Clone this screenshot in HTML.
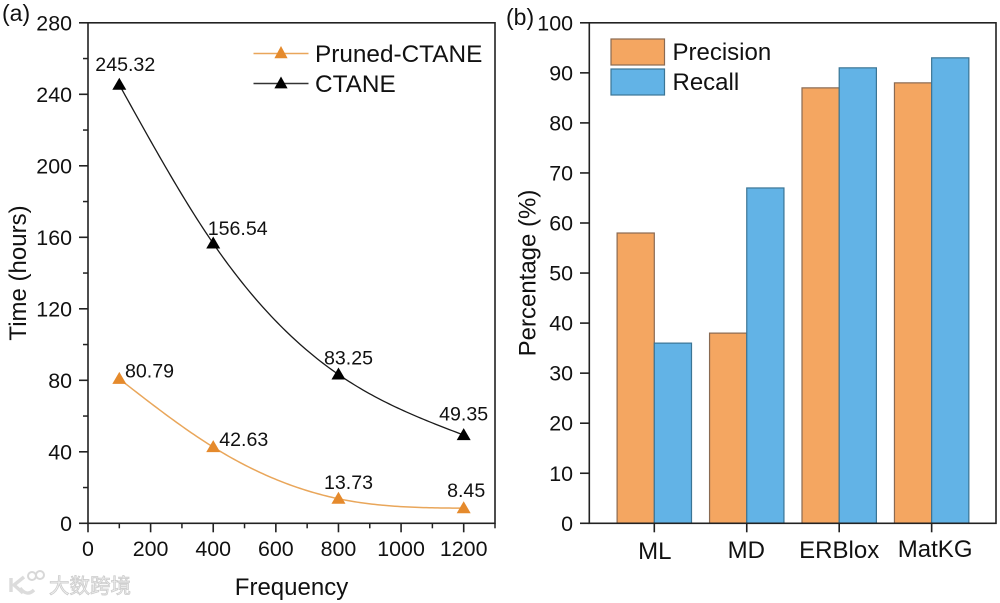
<!DOCTYPE html>
<html lang="en">
<head>
<meta charset="utf-8">
<title>CTANE runtime and model precision/recall</title>
<style>
html,body{margin:0;padding:0;background:#fff;}
svg{display:block;font-family:"Liberation Sans","Noto Sans CJK SC",sans-serif;}
text{fill:#111111;}
</style>
</head>
<body>
<svg id="figure" width="1000" height="603" viewBox="0 0 1000 603" xmlns="http://www.w3.org/2000/svg">
  <rect x="0" y="0" width="1000" height="603" fill="#ffffff"/>
  <text x="2" y="21" font-size="23">(a)</text>
  <text x="506" y="25" font-size="23">(b)</text>
  <text x="291.5" y="595" font-size="24" text-anchor="middle">Frequency</text>
  <text transform="translate(26 273) rotate(-90)" font-size="24" text-anchor="middle">Time (hours)</text>
  <text transform="translate(535.5 273) rotate(-90)" font-size="24" text-anchor="middle">Percentage (%)</text>

  <g id="chart-a"></g>
  <g id="chart-b"></g>

  <g>
    <line x1="253.5" x2="308.5" y1="53.5" y2="53.5" stroke="#e9a65a" stroke-width="1.6"/>
    <polygon points="281,46 287.6,58.3 274.4,58.3" fill="#e58a2c"/>
    <text x="315" y="62" font-size="24.35">Pruned-CTANE</text>
    <line x1="253.5" x2="308.5" y1="83.5" y2="83.5" stroke="#333" stroke-width="1.6"/>
    <polygon points="281,76.5 287.6,88.4 274.4,88.4" fill="#000"/>
    <text x="315" y="92" font-size="24.35">CTANE</text>
  </g>

  <g>
    <rect x="611" y="39" width="53.5" height="26" fill="#f4a661" stroke="#8a6a52" stroke-width="1.2"/>
    <text x="672.5" y="60" font-size="24">Precision</text>
    <rect x="611" y="69" width="53.5" height="26" fill="#62b3e6" stroke="#3b7595" stroke-width="1.2"/>
    <text x="672.5" y="90" font-size="24">Recall</text>
  </g>

  <g>
    <path d="M11 578 V592 M24 577 L14 585 L23 593 M20 588 Q27 597 34 590" fill="none" stroke="#dcdcdc" stroke-width="3.4"/>
    <circle cx="32" cy="576" r="4" fill="none" stroke="#d8d8d8" stroke-width="2"/>
    <circle cx="40" cy="575" r="4" fill="none" stroke="#d8d8d8" stroke-width="2"/>
    <text x="49" y="593" font-size="20.5" style="fill:#f0f0f0;stroke:#cccccc;stroke-width:0.8;font-family:'Noto Sans CJK SC','Liberation Sans',sans-serif;">大数跨境</text>
  </g>
</svg>

<script>
// ---------- Panel (a) data ----------
const frequencies = [100, 400, 800, 1200];
const prunedCtaneHours = [80.79, 42.63, 13.73, 8.45];
const ctaneHours = [245.32, 156.54, 83.25, 49.35];
const xTicksA = [0, 200, 400, 600, 800, 1000, 1200];
const xMinorTicksA = [100, 300, 500, 700, 900, 1100, 1300];
const yTicksA = [0, 40, 80, 120, 160, 200, 240, 280];
const yMinorTicksA = [20, 60, 100, 140, 180, 220, 260];

// ---------- Panel (b) data ----------
const models = ['ML', 'MD', 'ERBlox', 'MatKG'];
const precisionValues = [58, 38, 87, 88];
const recallValues = [36, 67, 91, 93];
const yTicksB = [0, 10, 20, 30, 40, 50, 60, 70, 80, 90, 100];

// ---------- Axis functions ----------
const NS = 'http://www.w3.org/2000/svg';
const xA = v => 88 + v * (407 / 1300);
const yA = v => 523.3 - v * (500.5 / 280);
const yB = v => 523.3 - v * (500.5 / 100);
const catB = i => 654.3 + i * 92.45;
const BAR_W = 37.2;

function make(parent, tag, attrs, text) {
  const node = document.createElementNS(NS, tag);
  for (const k in attrs) node.setAttribute(k, attrs[k]);
  if (text !== undefined) node.textContent = text;
  parent.appendChild(node);
  return node;
}

// Natural cubic spline through the data points
function spline(xs, ys) {
  const n = xs.length, h = [], m = new Array(n).fill(0);
  for (let i = 0; i < n - 1; i++) h.push(xs[i + 1] - xs[i]);
  const c = new Array(n).fill(0), d = new Array(n).fill(0);
  for (let i = 1; i < n - 1; i++) {
    const w = 2 * (h[i - 1] + h[i]) - h[i - 1] * c[i - 1];
    c[i] = h[i] / w;
    const r = 6 * ((ys[i + 1] - ys[i]) / h[i] - (ys[i] - ys[i - 1]) / h[i - 1]);
    d[i] = (r - h[i - 1] * d[i - 1]) / w;
  }
  for (let i = n - 2; i > 0; i--) m[i] = d[i] - c[i] * m[i + 1];
  return function (x) {
    let i = 0;
    while (i < n - 2 && x > xs[i + 1]) i++;
    const A = (xs[i + 1] - x) / h[i], B = (x - xs[i]) / h[i];
    return A * ys[i] + B * ys[i + 1] + ((A * A * A - A) * m[i] + (B * B * B - B) * m[i + 1]) * h[i] * h[i] / 6;
  };
}

function curvePath(xs, ys) {
  const f = spline(xs, ys);
  const lo = xs[0], hi = xs[xs.length - 1], steps = 120;
  let d = '';
  for (let s = 0; s <= steps; s++) {
    const x = lo + (hi - lo) * s / steps;
    d += (s ? 'L' : 'M') + xA(x).toFixed(2) + ' ' + yA(f(x)).toFixed(2);
  }
  return d;
}

const INK = '#222222';
const gA = document.getElementById('chart-a');
const gB = document.getElementById('chart-b');

// ---------- Panel (a) ----------
const curveB = make(gA, 'path', {d: curvePath(frequencies, ctaneHours), fill: 'none', stroke: '#1a1a1a', 'stroke-width': 1.3});


const curveO = make(gA, 'path', {d: curvePath(frequencies, prunedCtaneHours), fill: 'none', stroke: '#e9a65a', 'stroke-width': 1.5});



const ctaneLabelOffsets = [[-24, -14], [-5.5, -8.5], [-14.5, -10], [-24.6, -14.5]];
const prunedLabelOffsets = [[5.7, -1.5], [6, -1], [-14.5, -10], [-16.6, -11]];

function drawSeries(values, color, offsets, seriesName) {
  values.forEach((v, i) => {
    const px = xA(frequencies[i]), py = yA(v);
    const marker = make(gA, 'polygon', {
      points: `${px},${py - 7} ${px + 7},${py + 5} ${px - 7},${py + 5}`,
      fill: color
    });
    
    
    const label = make(gA, 'text', {x: px + offsets[i][0], y: py + offsets[i][1], 'font-size': 19.6}, v.toFixed(2));
    
    
  });
}
drawSeries(ctaneHours, '#000000', ctaneLabelOffsets, 'ctane');
drawSeries(prunedCtaneHours, '#e58a2c', prunedLabelOffsets, 'pruned-ctane');

const frameA = make(gA, 'rect', {x: xA(0), y: yA(280), width: xA(1300) - xA(0), height: yA(0) - yA(280), fill: 'none', stroke: INK, 'stroke-width': 1.6});



xTicksA.forEach(t => {
  const tick = make(gA, 'line', {x1: xA(t), x2: xA(t), y1: yA(0), y2: yA(0) + 9, stroke: INK, 'stroke-width': 1.6});
  
  
  const label = make(gA, 'text', {x: xA(t), y: 556, 'font-size': 21.4, 'text-anchor': 'middle'}, String(t));
  
  
});
xMinorTicksA.forEach(t => {
  const tick = make(gA, 'line', {x1: xA(t), x2: xA(t), y1: yA(0), y2: yA(0) + 5, stroke: INK, 'stroke-width': 1.5});
  
  
});
yTicksA.forEach(t => {
  const tick = make(gA, 'line', {x1: xA(0) - 9, x2: xA(0), y1: yA(t), y2: yA(t), stroke: INK, 'stroke-width': 1.6});
  
  
  const label = make(gA, 'text', {x: 72, y: yA(t) + 7.5, 'font-size': 21.4, 'text-anchor': 'end'}, String(t));
  
  
});
yMinorTicksA.forEach(t => {
  const tick = make(gA, 'line', {x1: xA(0) - 5, x2: xA(0), y1: yA(t), y2: yA(t), stroke: INK, 'stroke-width': 1.5});
  
  
});

// ---------- Panel (b) ----------
const modelLabelBaselines = [559, 558, 558, 557];
const modelLabelShift = [0.5, -0.5, 0, 3.5];

models.forEach((m, i) => {
  const cx = catB(i);
  const p = make(gB, 'rect', {x: cx - BAR_W, y: yB(precisionValues[i]), width: BAR_W, height: yB(0) - yB(precisionValues[i]), fill: '#f4a661', stroke: '#8a6a52', 'stroke-width': 1.2});
  
  
  const r = make(gB, 'rect', {x: cx, y: yB(recallValues[i]), width: BAR_W, height: yB(0) - yB(recallValues[i]), fill: '#62b3e6', stroke: '#3b7595', 'stroke-width': 1.2});
  
  
});

const frameB = make(gB, 'rect', {x: 589.3, y: yB(100), width: 406.7, height: yB(0) - yB(100), fill: 'none', stroke: INK, 'stroke-width': 1.6});



models.forEach((m, i) => {
  const cx = catB(i);
  const tick = make(gB, 'line', {x1: cx, x2: cx, y1: yB(0), y2: yB(0) + 9, stroke: INK, 'stroke-width': 1.6});
  
  
  const label = make(gB, 'text', {x: cx + modelLabelShift[i], y: modelLabelBaselines[i], 'font-size': 24, 'text-anchor': 'middle'}, m);
  
  
});
yTicksB.forEach(t => {
  const tick = make(gB, 'line', {x1: 580, x2: 589.3, y1: yB(t), y2: yB(t), stroke: INK, 'stroke-width': 1.6});
  
  
  const label = make(gB, 'text', {x: 573, y: yB(t) + 7.5, 'font-size': 21.4, 'text-anchor': 'end'}, String(t));
  
  
});
</script>
</body>
</html>
